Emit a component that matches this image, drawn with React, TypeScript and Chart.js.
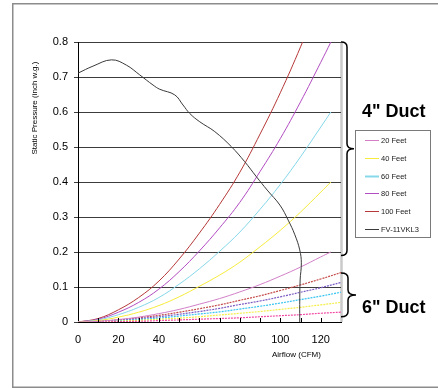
import React, { useEffect, useRef } from 'react';
import { Chart, registerables } from 'chart.js';

Chart.register(...registerables);

// ---- data ----
const flow4 = [0, 10, 20, 30, 40, 50, 60, 70, 80, 90, 100, 110, 120, 125];
const duct4_20ft = [0, 0.002, 0.007, 0.014, 0.024, 0.036, 0.051, 0.067, 0.086, 0.107, 0.131, 0.157, 0.186, 0.2];
const duct4_40ft = [0, 0.004, 0.014, 0.028, 0.047, 0.072, 0.102, 0.134, 0.171, 0.215, 0.262, 0.314, 0.371, 0.4];
const duct4_60ft = [0, 0.006, 0.021, 0.042, 0.07, 0.108, 0.152, 0.202, 0.257, 0.322, 0.393, 0.472, 0.557, 0.6];
const duct4_80ft = [0, 0.008, 0.028, 0.056, 0.094, 0.144, 0.203, 0.269, 0.342, 0.43, 0.524, 0.629, 0.742, 0.8];
const duct4_100ft = [0, 0.01, 0.035, 0.07, 0.117, 0.18, 0.254, 0.336, 0.428, 0.537, 0.655, 0.786, 0.928, 1.0];

const flow6 = [0, 10, 20, 30, 40, 50, 60, 70, 80, 90, 100, 110, 120, 130];
const duct6_20ft = [0, 0.0005, 0.001, 0.002, 0.004, 0.006, 0.008, 0.01, 0.012, 0.015, 0.018, 0.021, 0.025, 0.028];
const duct6_40ft = [0, 0.001, 0.0025, 0.005, 0.008, 0.011, 0.015, 0.02, 0.025, 0.03, 0.036, 0.042, 0.049, 0.056];
const duct6_60ft = [0, 0.001, 0.0035, 0.007, 0.011, 0.017, 0.023, 0.029, 0.037, 0.045, 0.054, 0.064, 0.074, 0.085];
const duct6_80ft = [0, 0.0015, 0.005, 0.0095, 0.015, 0.022, 0.03, 0.039, 0.05, 0.06, 0.072, 0.085, 0.098, 0.113];
const duct6_100ft = [0, 0.002, 0.006, 0.012, 0.019, 0.028, 0.038, 0.049, 0.062, 0.075, 0.09, 0.106, 0.123, 0.141];

const fanFlow = [0, 7.4, 16.6, 23.9, 30.5, 37.1, 40.4, 47.8, 51.9, 55.2, 60.2, 67.6, 75.8, 82.4, 88.2, 93.5, 99.8, 103.9, 107.2, 109.6, 110.4, 109.8, 109.6, 109.6];
const fanPressure = [0.711, 0.731, 0.749, 0.734, 0.706, 0.677, 0.665, 0.649, 0.62, 0.596, 0.572, 0.544, 0.501, 0.458, 0.415, 0.377, 0.334, 0.291, 0.249, 0.206, 0.169, 0.12, 0.05, 0];

const xTicks = [0, 20, 40, 60, 80, 100, 120];
const xTickLabels = ['0', '20', '40', '60', '80', '100', '120'];
const xMinorTicks = [10, 20, 30, 40, 50, 60, 70, 80, 90, 100, 110, 120];
const yTicks = [0, 0.1, 0.2, 0.3, 0.4, 0.5, 0.6, 0.7, 0.8];
const yTickLabels = ['0', '0.1', '0.2', '0.3', '0.4', '0.5', '0.6', '0.7', '0.8'];

const seriesLabels = ['20 Feet', '40 Feet', '60 Feet', '80 Feet', '100 Feet', 'FV-11VKL3'];
const duct4Colors = ['#d27fc8', '#f7ec3c', '#86d8ea', '#b24cc2', '#b63838'];
const duct6Colors = ['#f04ca4', '#f4ee48', '#38c4f0', '#7c5cc4', '#c44a4a'];
const fanColor = '#3a3a3a';
const ductTitles = ['4" Duct', '6" Duct'];
const xTitle = 'Airflow (CFM)';
const yTitle = 'Static Pressure (inch w.g.)';

const pts = (xs: number[], ys: number[]) => xs.map((x, i) => ({ x, y: ys[i] }));

const FONT = 'Arial, "Liberation Sans", sans-serif';

function brace(ctx: CanvasRenderingContext2D, x0: number, spine: number, tip: number, top: number, bottom: number) {
  const mid = (top + bottom) / 2;
  const r = 5;
  ctx.beginPath();
  ctx.moveTo(x0, top);
  ctx.quadraticCurveTo(spine, top, spine, top + r);
  ctx.lineTo(spine, mid - r);
  ctx.quadraticCurveTo(spine, mid, tip, mid);
  ctx.quadraticCurveTo(spine, mid, spine, mid + r);
  ctx.lineTo(spine, bottom - r);
  ctx.quadraticCurveTo(spine, bottom, x0, bottom);
  ctx.stroke();
}

const decor = {
  id: 'decor',
  beforeDraw(chart: any) {
    const { ctx, chartArea: a } = chart;
    ctx.save();
    ctx.fillStyle = '#ffffff';
    ctx.fillRect(0, 0, chart.width, chart.height);
    ctx.strokeStyle = '#8c8c8c';
    ctx.lineWidth = 1.5;
    ctx.strokeRect(12.75, 3.75, 600, 383.5);
    ctx.strokeStyle = '#cacaca';
    ctx.lineWidth = 2.5;
    ctx.beginPath();
    ctx.moveTo(a.right + 0.5, a.top);
    ctx.lineTo(a.right + 0.5, a.bottom);
    ctx.stroke();
    ctx.restore();
  },
  afterDraw(chart: any) {
    const { ctx, chartArea: a, scales } = chart;
    const xs = scales.x;
    const ys = scales.y;
    ctx.save();
    // inward minor ticks on x axis
    ctx.strokeStyle = '#000';
    ctx.lineWidth = 1;
    ctx.beginPath();
    xMinorTicks.forEach((v) => {
      const px = Math.round(xs.getPixelForValue(v)) + 0.5;
      ctx.moveTo(px, a.bottom);
      ctx.lineTo(px, a.bottom - 4);
    });
    ctx.stroke();

    // axis titles
    ctx.fillStyle = '#000';
    ctx.font = `8px ${FONT}`;
    ctx.textAlign = 'left';
    ctx.textBaseline = 'middle';
    ctx.fillText(xTitle, 272, 355);
    ctx.save();
    ctx.translate(35, 108);
    ctx.rotate(-Math.PI / 2);
    ctx.textAlign = 'center';
    ctx.fillText(yTitle, 0, 0);
    ctx.restore();

    // braces
    ctx.strokeStyle = '#000';
    ctx.lineWidth = 1.5;
    brace(ctx, a.right, a.right + 6, a.right + 13, ys.getPixelForValue(0.8), ys.getPixelForValue(0.19));
    brace(ctx, a.right, a.right + 7, a.right + 15, ys.getPixelForValue(0.14), ys.getPixelForValue(0.015));

    // duct titles
    ctx.font = `bold 18px ${FONT}`;
    ctx.textAlign = 'left';
    ctx.textBaseline = 'middle';
    ctx.fillText(ductTitles[0], 362, 112);
    ctx.fillText(ductTitles[1], 362, 308);

    // legend
    const lx = 355, ly = 130, lw = 75, lh = 107;
    ctx.fillStyle = '#fff';
    ctx.fillRect(lx, ly, lw, lh);
    ctx.strokeStyle = '#7a7a7a';
    ctx.lineWidth = 1;
    ctx.strokeRect(lx + 0.5, ly + 0.5, lw, lh);
    const items = chart.data.datasets.filter((d: any) => d.inLegend);
    ctx.font = `7.5px ${FONT}`;
    items.forEach((d: any, i: number) => {
      const yy = Math.round(ly + 10 + i * 17.8) + 0.5;
      ctx.strokeStyle = d.borderColor;
      ctx.lineWidth = d.legendWidth || 1;
      ctx.beginPath();
      ctx.moveTo(365, yy);
      ctx.lineTo(379, yy);
      ctx.stroke();
      ctx.fillStyle = '#222';
      ctx.fillText(d.label, 381, yy);
    });
    ctx.restore();
  },
};

export default function App() {
  const ref = useRef<HTMLCanvasElement | null>(null);
  useEffect(() => {
    if (!ref.current) return;
    const duct4 = [duct4_20ft, duct4_40ft, duct4_60ft, duct4_80ft, duct4_100ft];
    const duct6 = [duct6_20ft, duct6_40ft, duct6_60ft, duct6_80ft, duct6_100ft];
    const datasets: any[] = [];
    datasets.push({
      label: seriesLabels[5],
      data: pts(fanFlow, fanPressure),
      borderColor: fanColor,
      borderWidth: 1,
      pointRadius: 0,
      tension: 0.4,
      inLegend: true,
      order: 0,
    });
    duct4.forEach((ys, i) => {
      datasets.push({
        label: seriesLabels[i],
        data: pts(flow4, ys),
        borderColor: duct4Colors[i],
        borderWidth: 1,
        pointRadius: 0,
        tension: 0.4,
        inLegend: true,
        legendWidth: i === 2 ? 2 : 1,
        order: 1,
      });
    });
    duct6.forEach((ys, i) => {
      datasets.push({
        label: seriesLabels[i] + ' (6")',
        data: pts(flow6, ys),
        borderColor: duct6Colors[i],
        borderWidth: 1.2,
        borderDash: [2, 1],
        pointRadius: 0,
        tension: 0.4,
        inLegend: false,
        order: 2,
      });
    });
    // legend order: 20..100 feet then fan
    const legendSorted = [...datasets.slice(1, 6), datasets[0], ...datasets.slice(6)];

    const chart = new Chart(ref.current, {
      type: 'line',
      data: { datasets: legendSorted },
      options: {
        animation: false,
        responsive: true,
        maintainAspectRatio: false,
        devicePixelRatio: 1,
        events: [],
        layout: { padding: { left: 0, top: 42, right: 97, bottom: 0 } },
        plugins: { legend: { display: false }, tooltip: { enabled: false }, title: { display: false } },
        scales: {
          x: {
            type: 'linear',
            min: 0,
            max: 130,
            afterBuildTicks: (s: any) => {
              s.ticks = xTicks.map((v) => ({ value: v }));
            },
            afterFit: (s: any) => {
              s.height = 66;
            },
            grid: { display: true, drawOnChartArea: false, drawTicks: false },
            border: { color: '#000', width: 1 },
            ticks: {
              padding: 11,
              color: '#000',
              maxRotation: 0,
              autoSkip: false,
              font: { family: FONT, size: 11 },
              callback: (_v: any, i: number) => xTickLabels[i],
            },
          },
          y: {
            type: 'linear',
            min: 0,
            max: 0.8,
            afterBuildTicks: (s: any) => {
              s.ticks = yTicks.map((v) => ({ value: v }));
            },
            afterFit: (s: any) => {
              s.width = 78;
            },
            grid: { color: '#3c3c3c', lineWidth: 1, tickLength: 4, drawTicks: true },
            border: { color: '#000', width: 1 },
            ticks: {
              padding: 6,
              color: '#000',
              font: { family: FONT, size: 11 },
              callback: (_v: any, i: number) => yTickLabels[i],
            },
          },
        },
      } as any,
      plugins: [decor],
    });
    return () => chart.destroy();
  }, []);
  return (
    <div style={{ position: 'fixed', left: 0, top: 0, width: 438, height: 388, background: '#fff' }}>
      <canvas ref={ref} />
    </div>
  );
}
